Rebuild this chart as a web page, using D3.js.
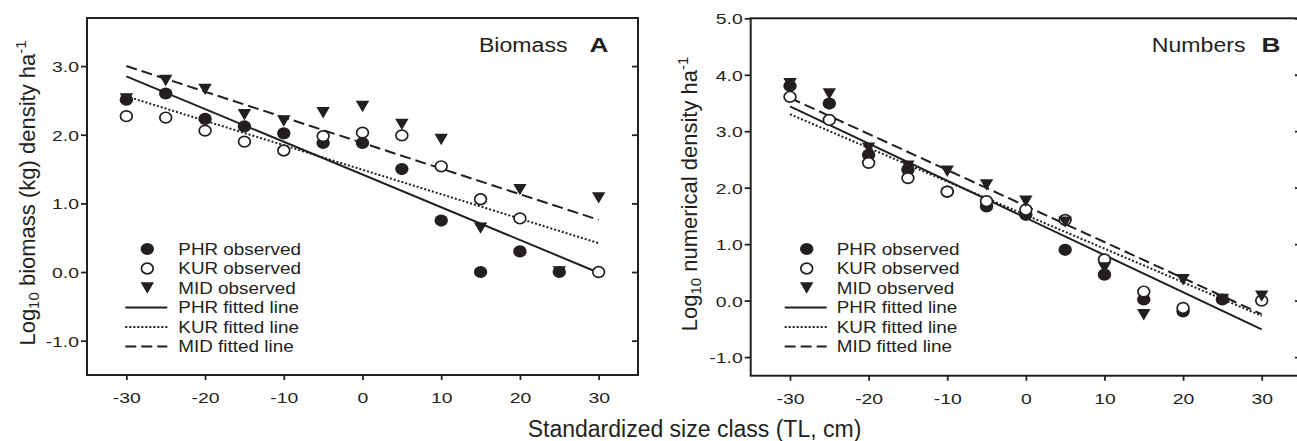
<!DOCTYPE html>
<html><head><meta charset="utf-8">
<script src="https://cdn.jsdelivr.net/npm/d3@7"></script>
<style>body{margin:0;background:#fff} svg{display:block}</style>
</head><body><svg id="c" width="1297" height="441"></svg>
<script>
// ---------- data ----------
const sizeClasses = [-30, -25, -20, -15, -10, -5, 0, 5, 10, 15, 20, 25, 30];
const xTickValues = [-30, -20, -10, 0, 10, 20, 30];

// Panel A: log10 biomass (kg) density ha-1
const phrBiomass = [2.51, 2.60, 2.23, 2.12, 2.02, 1.88, 1.88, 1.50, 0.75, 0.00, 0.30, 0.00, null];
const kurBiomass = [2.27, 2.25, 2.06, 1.90, 1.77, 1.98, 2.03, 1.99, 1.54, 1.06, 0.78, null, 0.00];
const midBiomass = [2.52, 2.79, 2.66, 2.29, 2.20, 2.32, 2.41, 2.15, 1.93, 0.64, 1.20, 0.00, 1.08];
const biomassYTicks = [-1, 0, 1, 2, 3];
// fitted lines: value at x = -30 and x = 30
const fitX = [-30, 30];
const phrBiomassFit = [2.85, -0.01];
const kurBiomassFit = [2.56, 0.42];
const midBiomassFit = [3.00, 0.76];

// Panel B: log10 numerical density ha-1
const phrNumbers = [3.80, 3.49, 2.58, 2.32, 1.93, 1.67, 1.52, 0.90, 0.46, 0.02, -0.19, 0.02, null];
const kurNumbers = [3.61, 3.20, 2.44, 2.17, 1.93, 1.76, 1.61, 1.43, 0.73, 0.16, -0.13, null, 0.00];
const midNumbers = [3.84, 3.66, 2.70, 2.38, 2.29, 2.05, 1.76, 1.39, 0.58, -0.25, 0.37, 0.02, 0.08];
const numbersYTicks = [-1, 0, 1, 2, 3, 4, 5];
const phrNumbersFit = [3.44, -0.51];
const kurNumbersFit = [3.30, -0.27];
const midNumbersFit = [3.59, -0.24];

const legendLabels = ["PHR observed", "KUR observed", "MID observed", "PHR fitted line", "KUR fitted line", "MID fitted line"];

// ---------- drawing ----------
const svg = d3.select("#c");
const FONT = "'Liberation Sans', Arial, Helvetica, sans-serif";
const INK = "#231f20";

const panels = [
  { letter: "A", title: "Biomass", x0: 87, x1: 638, y0: 18, y1: 375, yDomain: [-1.5, 3.7], yTicks: biomassYTicks,
    phr: phrBiomass, kur: kurBiomass, mid: midBiomass, fits: [phrBiomassFit, kurBiomassFit, midBiomassFit],
    titleEnd: 567.5, letterEnd: 608.5, legX: 147.3, legTextX: 178.3,
    ylabelMain: "biomass (kg) density ha", ylabelX: 34.5, ylabelY: 193 },
  { letter: "B", title: "Numbers", x0: 750.7, x1: 1301, y0: 18.3, y1: 375.7, yDomain: [-1.33, 5.0], yTicks: numbersYTicks,
    phr: phrNumbers, kur: kurNumbers, mid: midNumbers, fits: [phrNumbersFit, kurNumbersFit, midNumbersFit],
    titleEnd: 1245.5, letterEnd: 1280.5, legX: 806.7, legTextX: 836.7,
    ylabelMain: "numerical density ha", ylabelX: 697, ylabelY: 194 }
];

function stxt(g, x, y, s, size, sx, anchor, weight) {
  return g.append("text")
    .attr("transform", `translate(${x},${y}) scale(${sx},1)`)
    .attr("text-anchor", anchor || "start")
    .attr("font-family", FONT)
    .attr("font-size", size)
    .attr("font-weight", weight || "normal")
    .attr("fill", INK)
    .text(s);
}

const lineStyles = [
  { dash: null },
  { dash: "2,2" },
  { dash: "11,5" }
];

const TRI = "M-6.7,-5.7L6.7,-5.7L0,5.7Z";
const TICK_SX = 1.25, TICK_FS = 15.5;

panels.forEach(p => {
  const g = svg.append("g");
  const x = d3.scaleLinear().domain([-35, 35]).range([p.x0, p.x1]);
  const y = d3.scaleLinear().domain(p.yDomain).range([p.y1, p.y0]);

  // left axis
  const gl = g.append("g").attr("transform", `translate(${p.x0},0)`)
    .call(d3.axisLeft(y).tickValues(p.yTicks).tickSize(6).tickSizeOuter(0).tickFormat(d => d.toFixed(1)));
  gl.select(".domain").remove();
  gl.selectAll(".tick line").attr("stroke", INK).attr("stroke-width", 1.8);
  gl.selectAll(".tick text")
    .attr("x", -8 / TICK_SX).attr("dy", "0.36em")
    .attr("transform", `scale(${TICK_SX},1)`)
    .attr("font-size", TICK_FS).attr("font-family", FONT).attr("fill", INK);

  // right axis ticks (inward)
  const gr = g.append("g").attr("transform", `translate(${p.x1},0)`)
    .call(d3.axisLeft(y).tickValues(p.yTicks).tickSize(6).tickSizeOuter(0).tickFormat(""));
  gr.select(".domain").remove();
  gr.selectAll(".tick line").attr("stroke", INK).attr("stroke-width", 1.8);

  // bottom axis
  const gb = g.append("g").attr("transform", `translate(0,${p.y1})`)
    .call(d3.axisBottom(x).tickValues(xTickValues).tickSize(5).tickSizeOuter(0).tickFormat(d => String(d)));
  gb.select(".domain").remove();
  gb.selectAll(".tick line").attr("stroke", INK).attr("stroke-width", 1.8);
  gb.selectAll(".tick text")
    .attr("y", 28.3).attr("dy", 0)
    .attr("transform", `scale(${TICK_SX},1)`)
    .attr("font-size", TICK_FS).attr("font-family", FONT).attr("fill", INK);

  // frame
  g.append("rect").attr("x", p.x0).attr("y", p.y0)
    .attr("width", p.x1 - p.x0).attr("height", p.y1 - p.y0)
    .attr("fill", "none").attr("stroke", INK).attr("stroke-width", 2);

  // fitted lines
  p.fits.forEach((f, i) => {
    const l = g.append("line")
      .attr("x1", x(fitX[0])).attr("y1", y(f[0]))
      .attr("x2", x(fitX[1])).attr("y2", y(f[1]))
      .attr("stroke", INK).attr("stroke-width", 2);
    if (lineStyles[i].dash) l.attr("stroke-dasharray", lineStyles[i].dash);
  });

  const pts = arr => sizeClasses.map((c, i) => ({ c, v: arr[i] })).filter(d => d.v !== null);

  // filled circles (PHR)
  g.selectAll(".phr").data(pts(p.phr)).enter().append("ellipse")
    .attr("cx", d => x(d.c)).attr("cy", d => y(d.v))
    .attr("rx", 6.7).attr("ry", 6.1).attr("fill", INK);
  // open circles (KUR)
  g.selectAll(".kur").data(pts(p.kur)).enter().append("ellipse")
    .attr("cx", d => x(d.c)).attr("cy", d => y(d.v))
    .attr("rx", 5.9).attr("ry", 5.3).attr("fill", "#fff").attr("stroke", INK).attr("stroke-width", 1.7);
  // triangles (MID)
  g.selectAll(".mid").data(pts(p.mid)).enter().append("path")
    .attr("d", TRI)
    .attr("transform", d => `translate(${x(d.c)},${y(d.v)})`)
    .attr("fill", INK);

  // legend
  const rowY = [249, 268.5, 288, 307.5, 327, 346.5];
  g.append("ellipse").attr("cx", p.legX).attr("cy", rowY[0]).attr("rx", 6.7).attr("ry", 6.1).attr("fill", INK);
  g.append("ellipse").attr("cx", p.legX).attr("cy", rowY[1]).attr("rx", 5.9).attr("ry", 5.3)
    .attr("fill", "#fff").attr("stroke", INK).attr("stroke-width", 1.7);
  g.append("path").attr("d", TRI).attr("transform", `translate(${p.legX},${rowY[2]})`).attr("fill", INK);
  [0, 1, 2].forEach(i => {
    const l = g.append("line")
      .attr("x1", p.legX - 22).attr("x2", p.legX + 20)
      .attr("y1", rowY[3 + i]).attr("y2", rowY[3 + i])
      .attr("stroke", INK).attr("stroke-width", 2);
    if (lineStyles[i].dash) l.attr("stroke-dasharray", lineStyles[i].dash);
  });
  legendLabels.forEach((t, i) => stxt(g, p.legTextX, rowY[i] + 5.7, t, 16, 1.18));

  // title
  stxt(g, p.titleEnd, 52, p.title, 21, 1.1, "end");
  stxt(g, p.letterEnd, 52, p.letter, 21, 1.25, "end", "bold");

  // y label
  const yl = g.append("text")
    .attr("transform", `translate(${p.ylabelX},${p.ylabelY}) rotate(-90)`)
    .attr("text-anchor", "middle")
    .attr("font-family", FONT).attr("font-size", 22).attr("fill", INK);
  yl.append("tspan").text("Log");
  yl.append("tspan").attr("font-size", 15).attr("dy", 4).text("10");
  yl.append("tspan").attr("dy", -4).text(" " + p.ylabelMain);
  yl.append("tspan").attr("font-size", 15).attr("dy", -9).text("-1");
});

// shared x label
svg.append("text")
  .attr("x", 694.5).attr("y", 437)
  .attr("text-anchor", "middle")
  .attr("font-family", FONT).attr("font-size", 23).attr("fill", INK)
  .text("Standardized size class (TL, cm)");
</script>
</body></html>
